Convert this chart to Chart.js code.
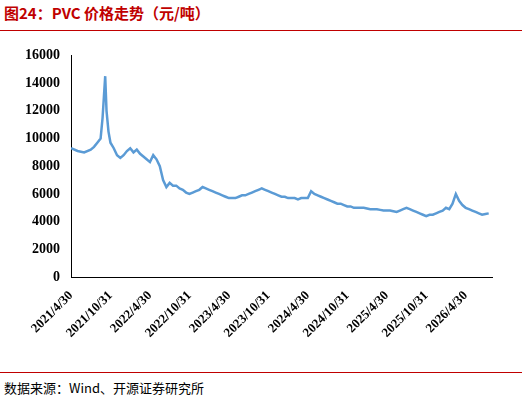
<!DOCTYPE html><html><head><meta charset="utf-8">
<script src="https://cdn.jsdelivr.net/npm/chart.js@4/dist/chart.umd.min.js"></script>
<style>body{margin:0;width:522px;height:405px;background:#fff;font-family:"Noto Sans CJK SC";position:relative}
#t{position:absolute;left:4px;top:2px;font-size:15px;font-weight:bold;color:#c00000;font-family:"Noto Sans CJK SC"}
#l1{position:absolute;left:0;right:0;top:30px;border-top:1px solid #c00000}
#l2{position:absolute;left:0;right:0;top:372px;border-top:1px solid #c00000}
#s{position:absolute;left:4px;top:378px;font-size:13px;color:#000}
#w{position:absolute;left:0;top:44px;width:500px;height:300px}</style></head><body>
<div id="t">图24：PVC 价格走势（元/吨）</div><div id="l1"></div>
<div id="w"><canvas id="c"></canvas></div>
<div id="l2"></div><div id="s">数据来源：Wind、开源证券研究所</div>
<script>
const tickLabels=["2021/4/30","2021/10/31","2022/4/30","2022/10/31","2023/4/30","2023/10/31","2024/4/30","2024/10/31","2025/4/30","2025/10/31","2026/4/30"];
const monthsA=[0,1,2,3,3.5,4,4.5,4.8,5,5.2,5.4,5.7,6,6.5,7,7.5,8,8.5,9,9.5,10,10.5,11,11.5,12];
const pricesA=[9300,9100,9000,9200,9400,9700,10000,11500,13000,14500,12000,10500,9700,9300,8800,8600,8800,9100,9300,9000,9200,8900,8700,8500,8300];
const pricesB=[8800,8500,8000,7000,6500,6800,6600,6600,6400,6300,6100,6000,6100,6200,6300,6500,6400,6300,6200,6100,6000,5900,5800,5700];
const pricesC=[5700,5700,5800,5900,5900,6000,6100,6200,6300,6400,6300,6200,6100,6000,5900,5800,5800,5700,5700,5700,5600,5700,5700,5700];
const pricesD=[6200,6000,5900,5800,5700,5600,5500,5400,5300,5300,5200,5100,5100,5000,5000,5000,5000,4950,4900,4900,4900,4850,4800,4800];
const pricesE=[4800,4750,4700,4800,4900,5000,4900,4800,4700,4600,4500,4400,4500,4500,4600,4700,4800,5000,4900,5300,6000,5500,5200,5000,4900,4800,4700,4600,4500,4550,4600];
const rest=pricesB.concat(pricesC,pricesD,pricesE);
const months=monthsA.concat(rest.map((_,i)=>12.5+i*0.5));
const prices=pricesA.concat(rest);
const tickVals=tickLabels.map((_,i)=>i*6);
new Chart(document.getElementById('c'),{type:'line',
data:{datasets:[{data:months.map((m,i)=>({x:m,y:prices[i]})),borderColor:'#5B9BD5',borderWidth:2.5,pointRadius:0,tension:0}]},
options:{responsive:true,maintainAspectRatio:false,animation:false,plugins:{legend:{display:false},tooltip:{enabled:false}},
layout:{padding:{top:8,right:8,left:22}},
scales:{x:{type:'linear',min:0,max:64,grid:{display:false},border:{color:'#000'},
afterBuildTicks:a=>{a.ticks=tickVals.map(v=>({value:v}))},
ticks:{autoSkip:false,maxRotation:45,minRotation:45,color:'#000',font:{family:'Liberation Serif',size:13,weight:'bold'},callback:(v)=>tickLabels[tickVals.indexOf(v)]}},
y:{min:0,max:16000,grid:{display:false},border:{color:'#000'},ticks:{stepSize:2000,color:'#000',font:{family:'Liberation Serif',size:14,weight:'bold'},callback:v=>String(v)}}}}});
</script></body></html>
